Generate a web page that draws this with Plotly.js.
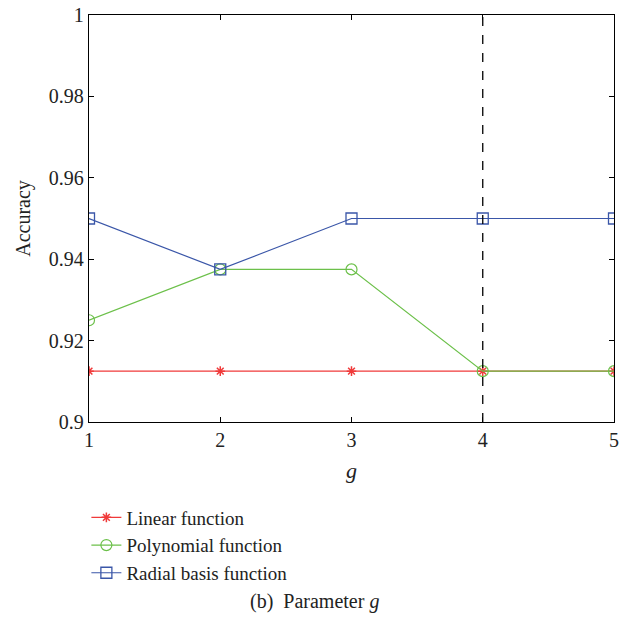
<!DOCTYPE html>
<html>
<head>
<meta charset="utf-8">
<script src="https://cdn.plot.ly/plotly-3.0.1.min.js"></script>
<style>
html,body{margin:0;padding:0;background:#fff;}
#chart{width:629px;height:622px;}
</style>
</head>
<body>
<div id="chart"></div>
<script>
const paramG = [1, 2, 3, 4, 5];
const linearAcc = [0.9125, 0.9125, 0.9125, 0.9125, 0.9125];
const polyAcc = [0.925, 0.9375, 0.9375, 0.9125, 0.9125];
const rbfAcc = [0.95, 0.9375, 0.95, 0.95, 0.95];
const yTickVals = [0.9, 0.92, 0.94, 0.96, 0.98, 1];
const yTickText = ["0.9", "0.92", "0.94", "0.96", "0.98", "1"];
const xTickVals = [1, 2, 3, 4, 5];
const xTickText = ["1", "2", "3", "4", "5"];
const selectedG = 4;

const FONT = "Liberation Serif";
const FS = 20;

const traces = [
  {x: paramG, y: linearAcc, name: "Linear function", mode: "lines+markers",
   line: {color: "#f03a3a", width: 1.3},
   marker: {symbol: "asterisk-open", size: 8, color: "#f03a3a", line: {color: "#f03a3a", width: 1.5}}},
  {x: paramG, y: polyAcc, name: "Polynomial function", mode: "lines+markers",
   line: {color: "#6cc04a", width: 1.2},
   marker: {symbol: "circle-open", size: 11, color: "#6cc04a", line: {color: "#6cc04a", width: 1.2}}},
  {x: paramG, y: rbfAcc, name: "Radial basis function", mode: "lines+markers",
   line: {color: "#3a56a8", width: 1.2},
   marker: {symbol: "square-open", size: 11, color: "#3a56a8", line: {color: "#3a56a8", width: 1.3}}}
];

const layout = {
  width: 629, height: 622,
  margin: {l: 89, r: 15, t: 15, b: 200},
  paper_bgcolor: "#fff", plot_bgcolor: "#fff",
  font: {family: FONT, size: FS, color: "#222"},
  showlegend: true,
  legend: {x: -0.005, y: -0.188, xanchor: "left", yanchor: "top",
    font: {family: FONT, size: 19, color: "#222"}, bgcolor: "rgba(0,0,0,0)",
    tracegroupgap: 0},
  xaxis: {range: [1, 5], tickvals: xTickVals, ticktext: xTickText,
    ticks: "inside", ticklen: 5, tickcolor: "#000", showline: true, linecolor: "#000",
    linewidth: 1.3, mirror: "ticks", showgrid: false, zeroline: false,
    tickfont: {family: FONT, size: FS, color: "#222"},
    title: {text: "<i>g</i>", font: {family: FONT, size: 22, color: "#222"}, standoff: 12}},
  yaxis: {range: [0.9, 1], tickvals: yTickVals, ticktext: yTickText,
    ticks: "inside", ticklen: 5, tickcolor: "#000", showline: true, linecolor: "#000",
    linewidth: 1.3, mirror: "ticks", showgrid: false, zeroline: false,
    tickfont: {family: FONT, size: FS, color: "#222"},
    title: {text: "Accuracy", font: {family: FONT, size: FS, color: "#222"}, standoff: 12}},
  shapes: [{type: "line", xref: "x", yref: "paper", x0: selectedG, x1: selectedG, y0: 0, y1: 1,
    line: {color: "#000", width: 1.3, dash: "dash"}}],
  annotations: [{xref: "paper", yref: "paper", x: 0.4286, y: -0.44, xanchor: "center", yanchor: "middle",
    showarrow: false, text: "(b)  Parameter <i>g</i>", font: {family: FONT, size: FS, color: "#222"}}]
};

Plotly.newPlot("chart", traces, layout, {displayModeBar: false, staticPlot: true});
</script>
</body>
</html>
